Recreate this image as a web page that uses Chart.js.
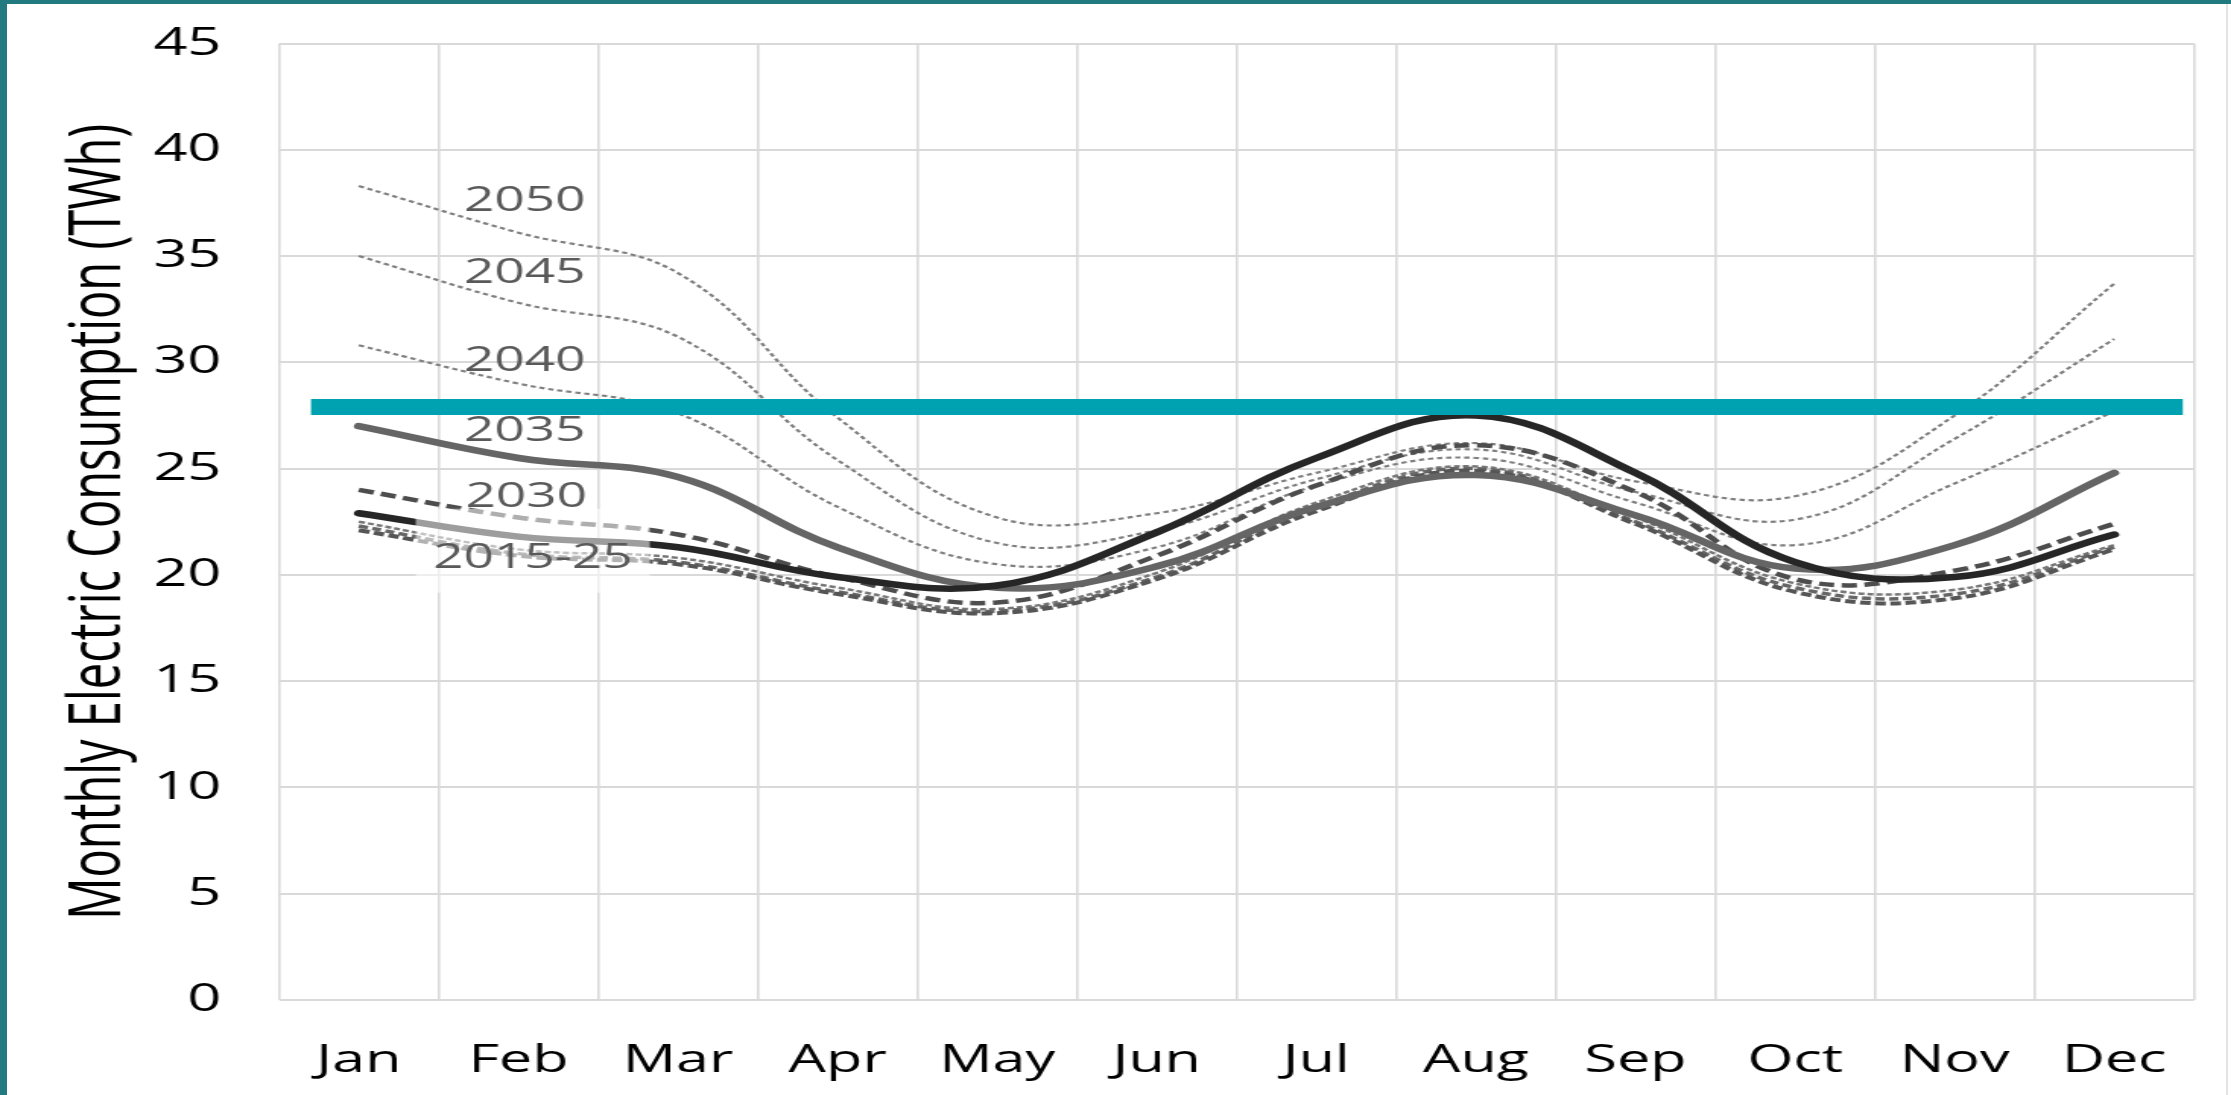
<!DOCTYPE html>
<html><head><meta charset="utf-8">
<script src="https://cdn.jsdelivr.net/npm/chart.js@4/dist/chart.umd.min.js"></script>
<style>
html,body{margin:0;padding:0;background:#fff;width:2231px;height:1095px;overflow:hidden}
#frameL{position:absolute;left:0;top:0;width:7px;height:1095px;background:#217a80}
#frameT{position:absolute;left:0;top:0;width:2231px;height:4px;background:#217a80}
#frameR{position:absolute;left:2226px;top:4px;width:2px;height:1091px;background:#e4e4e4}
#wrap{position:absolute;left:0;top:0;width:1468px;height:1095px;transform:scaleX(1.5198);transform-origin:0 0}
</style></head><body>
<div id="wrap"><canvas id="c"></canvas></div>
<div id="frameL"></div><div id="frameT"></div><div id="frameR"></div>
<script>
// ---- data ----
const months = ['Jan','Feb','Mar','Apr','May','Jun','Jul','Aug','Sep','Oct','Nov','Dec'];
const yTicks = [0,5,10,15,20,25,30,35,40,45];
const s2050 = [38.3, 36.1, 34.2, 27.4, 22.7, 22.9, 24.8, 26.2, 24.4, 23.7, 27.5, 33.7];
const s2045 = [35.0, 32.8, 31.2, 25.4, 21.5, 22.1, 24.5, 25.9, 23.9, 22.6, 26.4, 31.1];
const s2040 = [30.8, 29.0, 27.6, 23.2, 20.5, 21.3, 24.2, 25.5, 23.4, 21.4, 24.3, 27.7];
const s2035 = [27.0, 25.5, 24.6, 21.3, 19.4, 20.4, 23.2, 24.7, 22.8, 20.3, 21.4, 24.8];
const s2030 = [24.0, 22.7, 21.9, 19.9, 18.7, 20.9, 24.2, 26.1, 23.9, 19.8, 20.2, 22.4];
const sActual = [22.9, 21.8, 21.3, 19.9, 19.5, 22.0, 25.5, 27.5, 24.8, 20.6, 19.9, 21.9];
const s2025 = [22.5, 21.2, 20.8, 19.4, 18.4, 20.1, 23.4, 25.1, 22.7, 19.6, 19.3, 21.4];
const s2020 = [22.3, 21.0, 20.6, 19.2, 18.3, 19.9, 23.2, 25.0, 22.5, 19.4, 19.1, 21.3];
const s2015 = [22.1, 20.9, 20.5, 19.1, 18.2, 19.8, 23.0, 24.9, 22.4, 19.2, 18.9, 21.2];
// reference (capacity) line: month-index positions and value
const capX = [-0.30, 11.43];
const capY = [27.9, 27.9];
// in-chart series labels (month-index position, value)
const labelText = ['2050','2045','2040','2035','2030','2015-25'];
const labelX = [1.04, 1.04, 1.04, 1.04, 1.05, 1.09];
const labelY = [37.7, 34.3, 30.2, 26.9, 23.8, 20.9];

// ---- chart ----
const FONT = '"Open Sans", "DejaVu Sans", sans-serif';
const labelPlugin = {
  id: 'seriesLabels',
  afterDatasetsDraw(chart) {
    const ctx = chart.ctx, xs = chart.scales.x2, ys = chart.scales.y;
    ctx.save();
    ctx.font = '35px ' + FONT;
    ctx.textAlign = 'center';
    ctx.textBaseline = 'alphabetic';
    labelText.forEach((t, i) => {
      const px = xs.getPixelForValue(labelX[i]);
      const py = ys.getPixelForValue(labelY[i]);
      if (t === '2015-25') {
        ctx.fillStyle = 'rgba(255,255,255,0.55)';
        ctx.fillRect(px - 77, py - 47, 154, 84);
      }
      ctx.fillStyle = '#595959';
      ctx.fillText(t, px, py + 12.5);
    });
    ctx.restore();
  }
};

function line(data, color, width, dash) {
  return { data, borderColor: color, borderWidth: width, borderDash: dash || [],
           pointRadius: 0, tension: 0.4, fill: false, xAxisID: 'x', yAxisID: 'y',
           borderCapStyle: dash ? 'butt' : 'round' };
}

new Chart(document.getElementById('c'), {
  type: 'line',
  data: {
    labels: months,
    datasets: [
      { data: capX.map((x, i) => ({ x, y: capY[i] })), xAxisID: 'x2', yAxisID: 'y',
        borderColor: '#00a1b0', borderWidth: 16, pointRadius: 0, tension: 0, borderCapStyle: 'butt' },
      line(sActual, '#262626', 6.5),
      line(s2035, '#656565', 6.5),
      line(s2030, '#4d4d4d', 4.5, [10, 5]),
      line(s2015, '#555555', 4, [7, 3]),
      line(s2020, '#666666', 3.5, [6, 3]),
      line(s2025, '#777777', 2.5, [4, 2]),
      line(s2040, '#7f7f7f', 2.2, [3.5, 2.5]),
      line(s2045, '#7f7f7f', 2.2, [3.5, 2.5]),
      line(s2050, '#7f7f7f', 2.2, [3.5, 2.5])
    ]
  },
  plugins: [labelPlugin],
  options: {
    responsive: true, maintainAspectRatio: false, animation: false,
    layout: { autoPadding: false, padding: { left: 0, right: 24.4, top: 43.5, bottom: 0 } },
    plugins: { legend: { display: false }, tooltip: { enabled: false } },
    scales: {
      x: {
        type: 'category', offset: true,
        grid: { offset: true, color: '#d9d9d9', lineWidth: 1.6, drawTicks: false },
        border: { display: false },
        ticks: { color: '#000', font: { family: FONT, size: 39 }, padding: 37, maxRotation: 0, autoSkip: false },
        afterFit: s => { s.height = 95; s.paddingLeft = 0; s.paddingRight = 0; }
      },
      x2: { type: 'linear', display: false, min: -0.5, max: 11.5 },
      y: {
        min: 0, max: 45,
        afterBuildTicks: s => { s.ticks = yTicks.map(v => ({ value: v })); },
        grid: { color: '#d9d9d9', lineWidth: 2, drawTicks: false },
        border: { display: false },
        ticks: { color: '#000', font: { family: FONT, size: 39 }, padding: 38 },
        title: { display: true, text: 'Monthly Electric Consumption (TWh)', color: '#000',
                 font: { family: FONT, size: 47, weight: 'normal' }, padding: { top: 37, bottom: 0 } },
        afterFit: s => { s.width = 183.6; s.paddingTop = 0; s.paddingBottom = 0; }
      }
    }
  }
});
</script>
</body></html>
